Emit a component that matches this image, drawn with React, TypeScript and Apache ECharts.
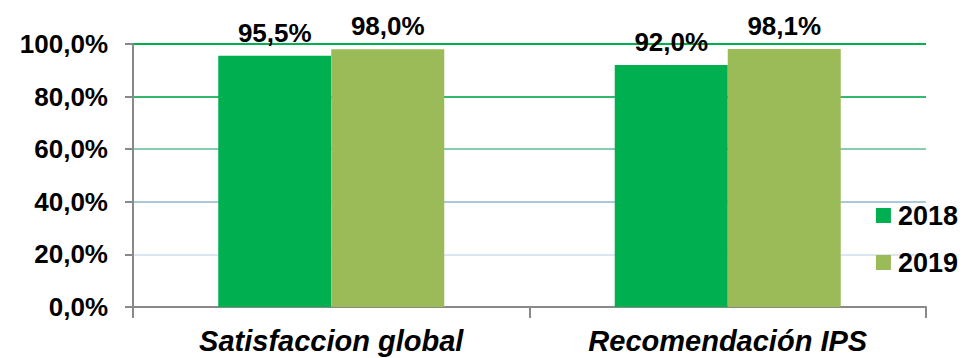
import React, { useEffect, useRef } from "react";
import * as echarts from "echarts";

const categories = ["Satisfaccion global", "Recomendación IPS"];
const seriesNames = ["2018", "2019"];
const values2018 = [95.5, 92.0];
const values2019 = [98.0, 98.1];
const yTicks = [0, 20, 40, 60, 80, 100];

const FONT = '"Liberation Sans", Arial, sans-serif';
const pct = (v: number) => v.toFixed(1).replace(".", ",") + "%";

export default function App() {
  const ref = useRef<HTMLDivElement>(null);

  useEffect(() => {
    if (!ref.current) return;
    const chart = echarts.init(ref.current, undefined, { renderer: "svg" });

    const labelStyle = {
      show: true,
      position: "top" as const,
      distance: 10,
      color: "#000",
      fontFamily: FONT,
      fontWeight: "bold" as const,
      fontSize: 26,
      formatter: (p: any) => pct(p.value),
    };

    chart.setOption({
      animation: false,
      backgroundColor: "#fff",
      textStyle: { fontFamily: FONT },
      grid: { left: 133, right: 43, top: 44, bottom: 51, containLabel: false },
      legend: {
        orient: "vertical",
        right: 6,
        top: 197,
        itemWidth: 15,
        itemHeight: 15,
        itemGap: 20,
        icon: "rect",
        data: seriesNames,
        textStyle: {
          fontFamily: FONT,
          fontWeight: "bold",
          fontSize: 27,
          color: "#000",
          padding: [0, 0, 0, 2],
        },
      },
      xAxis: {
        type: "category",
        data: categories,
        axisLine: { lineStyle: { color: "#898989", width: 2 } },
        axisTick: { show: true, length: 11, lineStyle: { color: "#898989", width: 2 } },
        axisLabel: {
          margin: 19,
          color: "#000",
          fontFamily: FONT,
          fontWeight: "bold",
          fontStyle: "italic",
          fontSize: 29,
        },
      },
      yAxis: {
        type: "value",
        min: yTicks[0],
        max: yTicks[yTicks.length - 1],
        interval: 20,
        axisLine: { show: true, lineStyle: { color: "#898989", width: 2 } },
        axisTick: { show: true, length: 8, lineStyle: { color: "#898989", width: 2 } },
        axisLabel: {
          margin: 25,
          color: "#000",
          fontFamily: FONT,
          fontWeight: "bold",
          fontSize: 26,
          formatter: (v: number) => pct(v),
        },
        splitLine: {
          show: true,
          lineStyle: {
            width: 2,
            color: ["#898989", "#dce6f2", "#a9c9da", "#86cdb0", "#33b86e", "#00b050"],
          },
        },
      },
      series: [
        {
          name: seriesNames[0],
          type: "bar",
          data: values2018,
          barWidth: 113,
          barGap: "0%",
          itemStyle: { color: "#00b050" },
          label: labelStyle,
        },
        {
          name: seriesNames[1],
          type: "bar",
          data: values2019,
          barWidth: 113,
          barGap: "0%",
          itemStyle: { color: "#9bbb59" },
          label: labelStyle,
        },
      ],
    });

    return () => chart.dispose();
  }, []);

  return (
    <div
      ref={ref}
      style={{ position: "absolute", left: 0, top: 0, width: 969, height: 358 }}
    />
  );
}
